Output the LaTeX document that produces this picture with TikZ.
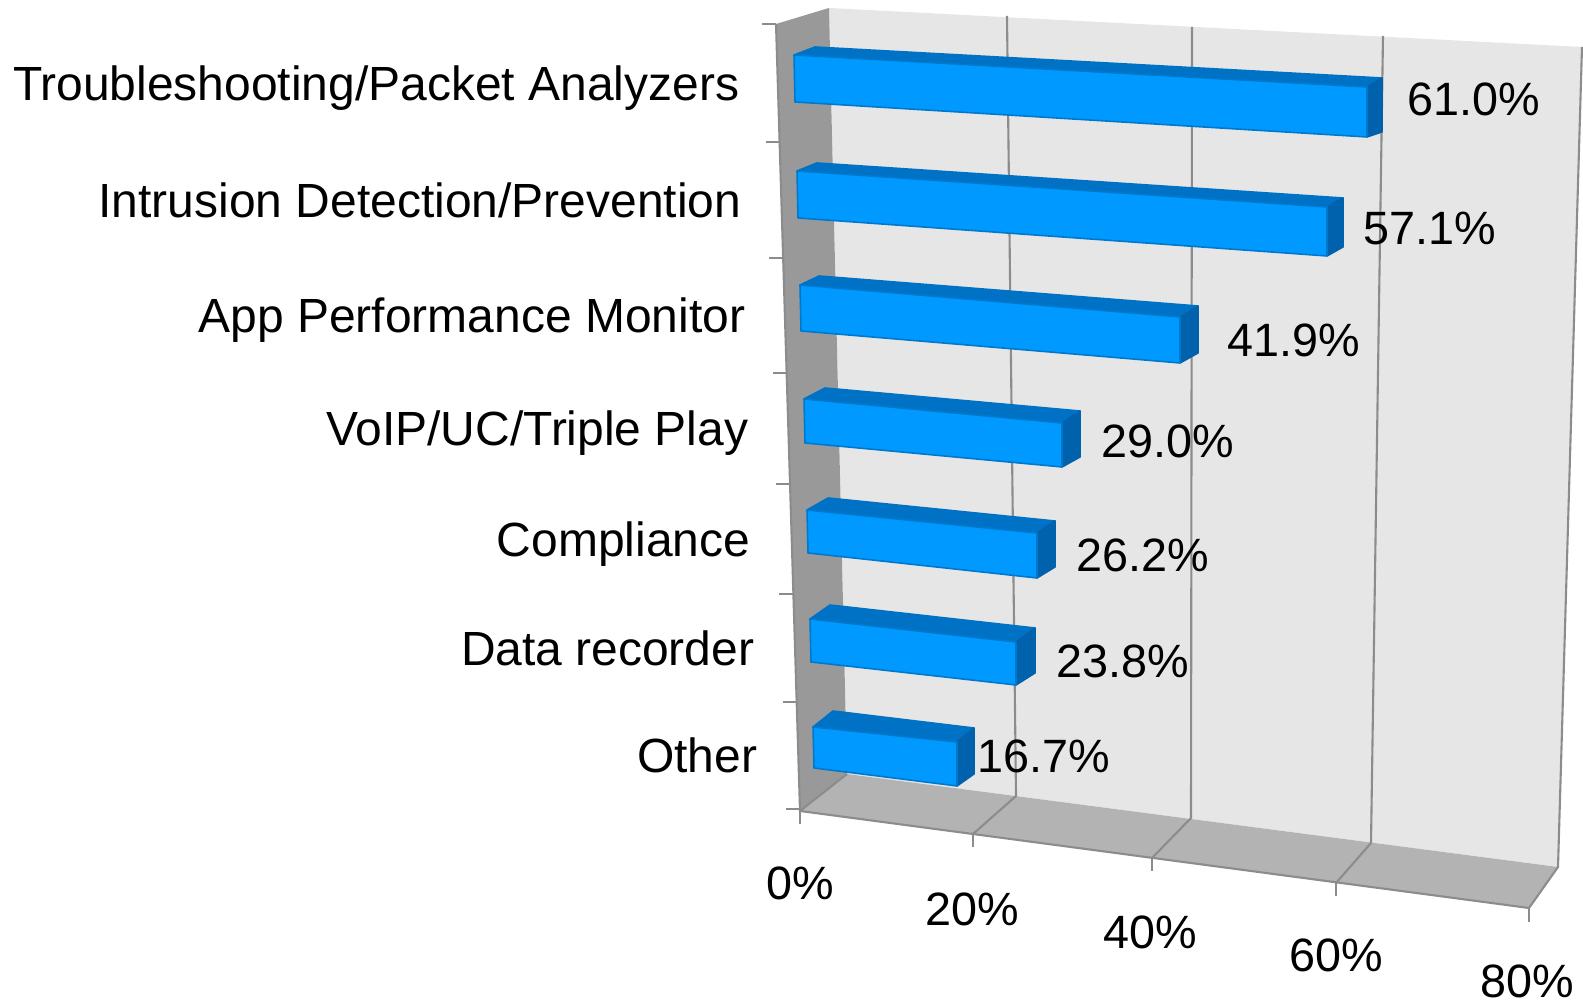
\documentclass[tikz,border=0pt]{standalone}
\usepackage{fontspec}
\setmainfont{Liberation Sans}
\usepackage{tikz}
\definecolor{wallback}{HTML}{E6E6E6}
\definecolor{wallleft}{HTML}{999999}
\definecolor{floorgray}{HTML}{B3B3B3}
\definecolor{gridgray}{HTML}{8C8C8C}
\definecolor{barblue}{HTML}{0099FF}
\definecolor{bartopblue}{HTML}{0072C6}
\definecolor{barsideblue}{HTML}{0062AD}
\definecolor{baredge}{HTML}{0078CC}
\tikzset{
  gridline/.style   = {draw=gridgray, line width=0.6pt},
  axline/.style     = {draw=gridgray, line width=0.6pt},
  axtick/.style     = {draw=gridgray, line width=0.6pt},
  barfront/.style   = {fill=barblue, draw=baredge, line width=0.45pt, line join=round},
  bartop/.style     = {fill=bartopblue, draw=bartopblue, line width=0.45pt, line join=round},
  barside/.style    = {fill=barsideblue, draw=barsideblue, line width=0.45pt, line join=round},
  every node/.style = {font=\fontsize{13.3}{16}\selectfont, inner sep=0pt},
  cat/.style        = {anchor=base east, font=\fontsize{13.65}{16}\selectfont},
  val/.style        = {anchor=base west},
  pct/.style        = {anchor=base},
}

\begin{document}
\begin{tikzpicture}[x=0.1mm, y=-0.1mm]
  \useasboundingbox (0,0) rectangle (1583,1005);
  % back wall, side wall, floor
  \fill[wallback] (829,8) -- (1582,47) -- (1558,867) -- (847,774) -- cycle;
  \fill[wallleft] (776,24) -- (829,8) -- (847,774) -- (800,811) -- cycle;
  \fill[floorgray] (800,811) -- (847,774) -- (1558,867) -- (1529,908) -- cycle;
  % gridlines, running on over the floor
  \draw[gridline] (1007,16) -- (1016,796) -- (973,834);
  \draw[gridline] (1192,27) -- (1191,818) -- (1152,858);
  \draw[gridline] (1383,36) -- (1371,843) -- (1336,883);
  \draw[gridline] (1582,47) -- (1558,867) -- (1529,908);
  \draw[gridline] (847,774) -- (800,811);
  % axes and ticks
  \draw[axline] (776,24) -- (800,811) -- (1529,908);
  \draw[axtick] (762,24) -- (776,24);
  \draw[axtick] (766,142) -- (780,142);
  \draw[axtick] (769,258) -- (783,258);
  \draw[axtick] (773,373) -- (787,373);
  \draw[axtick] (776,484) -- (790,484);
  \draw[axtick] (779,594) -- (793,594);
  \draw[axtick] (783,702) -- (797,702);
  \draw[axtick] (786,809) -- (800,809);
  \draw[axtick] (800,811) -- (800,824);
  \draw[axtick] (973,834) -- (973,847);
  \draw[axtick] (1152,858) -- (1152,871);
  \draw[axtick] (1336,883) -- (1336,896);
  \draw[axtick] (1529,908) -- (1529,922);
  % bars: top, end, front
  \filldraw[bartop] (794,55) -- (815,47) -- (1382,78) -- (1367,87) -- cycle;
  \filldraw[barside] (1367,87) -- (1382,78) -- (1382,132) -- (1367,137) -- cycle;
  \filldraw[barfront] (794,55) -- (1367,87) -- (1367,137) -- (795,102) -- cycle;
  \filldraw[bartop] (797,171) -- (817,163) -- (1343,198) -- (1327,207) -- cycle;
  \filldraw[barside] (1327,207) -- (1343,198) -- (1343,247) -- (1327,256) -- cycle;
  \filldraw[barfront] (797,171) -- (1327,207) -- (1327,256) -- (798,218) -- cycle;
  \filldraw[bartop] (800,285) -- (819,276) -- (1198,306) -- (1180,317) -- cycle;
  \filldraw[barside] (1180,317) -- (1198,306) -- (1198,353) -- (1180,363) -- cycle;
  \filldraw[barfront] (800,285) -- (1180,317) -- (1180,363) -- (801,331) -- cycle;
  \filldraw[bartop] (804,399) -- (825,388) -- (1080,411) -- (1062,423) -- cycle;
  \filldraw[barside] (1062,423) -- (1080,411) -- (1080,457) -- (1062,467) -- cycle;
  \filldraw[barfront] (804,399) -- (1062,423) -- (1062,467) -- (805,443) -- cycle;
  \filldraw[bartop] (807,510) -- (828,498) -- (1055,521) -- (1037,533) -- cycle;
  \filldraw[barside] (1037,533) -- (1055,521) -- (1055,567) -- (1037,578) -- cycle;
  \filldraw[barfront] (807,510) -- (1037,533) -- (1037,578) -- (808,553) -- cycle;
  \filldraw[bartop] (810,619) -- (830,605) -- (1035,628) -- (1016,642) -- cycle;
  \filldraw[barside] (1016,642) -- (1035,628) -- (1035,673) -- (1016,685) -- cycle;
  \filldraw[barfront] (810,619) -- (1016,642) -- (1016,685) -- (811,662) -- cycle;
  \filldraw[bartop] (813,727) -- (833,711) -- (974,728) -- (957,742) -- cycle;
  \filldraw[barside] (957,742) -- (974,728) -- (974,774) -- (957,786) -- cycle;
  \filldraw[barfront] (813,727) -- (957,742) -- (957,786) -- (814,768) -- cycle;
  % category labels
  \node[cat] (cat1) at (740,101) {Troubleshooting/Packet Analyzers};
  \node[cat] (cat2) at (742,218) {Intrusion Detection/Prevention};
  \node[cat] (cat3) at (746,333) {App Performance Monitor};
  \node[cat] (cat4) at (749,446) {VoIP/UC/Triple Play};
  \node[cat] (cat5) at (751,557) {Compliance};
  \node[cat] (cat6) at (755,666) {Data recorder};
  \node[cat] (cat7) at (758,773) {Other};
  % value labels
  \node[val] (val1) at (1407,116) {61.0\%};
  \node[val] (val2) at (1363,245) {57.1\%};
  \node[val] (val3) at (1227,357) {41.9\%};
  \node[val] (val4) at (1101,458) {29.0\%};
  \node[val] (val5) at (1076,572) {26.2\%};
  \node[val] (val6) at (1056,678) {23.8\%};
  \node[val] (val7) at (977,773) {16.7\%};
  % axis labels
  \node[pct] (pct0) at (800,900) {0\%};
  \node[pct] (pct20) at (972,926) {20\%};
  \node[pct] (pct40) at (1150,949) {40\%};
  \node[pct] (pct60) at (1336,972) {60\%};
  \node[pct] (pct80) at (1527,998) {80\%};
\end{tikzpicture}
\end{document}
